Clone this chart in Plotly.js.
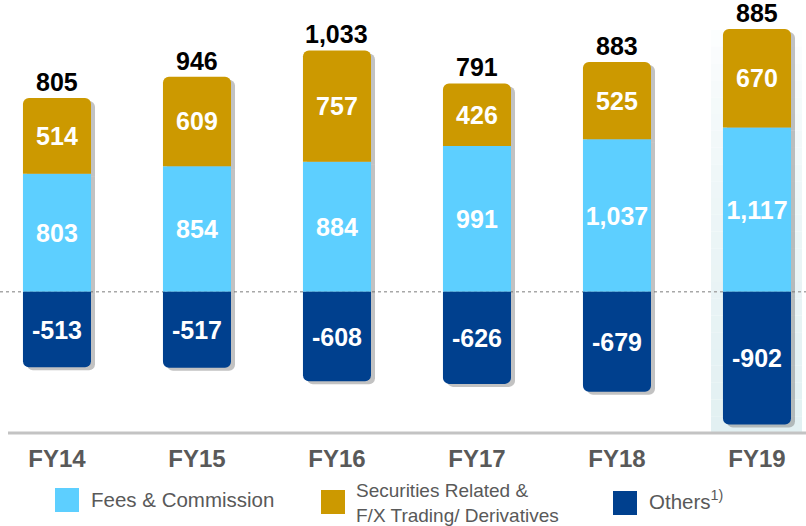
<!DOCTYPE html>
<html>
<head>
<meta charset="utf-8">
<script src="https://cdn.plot.ly/plotly-3.0.1.min.js"></script>
<style>html,body{margin:0;padding:0;background:#fff;}#chart{width:806px;height:526px;}</style>
</head>
<body>
<div id="chart"></div>
<script>
const categories = ['FY14', 'FY15', 'FY16', 'FY17', 'FY18', 'FY19'];
const fees = [803, 854, 884, 991, 1037, 1117];
const securities = [514, 609, 757, 426, 525, 670];
const others = [-513, -517, -608, -626, -679, -902];
const totals = [805, 946, 1033, 791, 883, 885];
const seriesNames = ['Fees & Commission', 'Securities Related &<br>F/X Trading/ Derivatives', 'Others<sup>1)</sup>'];
const colors = ['#5DCFFF', '#CC9900', '#00408E'];

const FONT = 'Liberation Sans, Arial, sans-serif';
const W = 806, H = 526, T = 5, B = 93;
const plotH = H - T - B;
const yRange = [-960, 1950];
const pxPerUnit = plotH / (yRange[1] - yRange[0]);
const xRange = [-0.407, -0.407 + W / 140];
const barW = 0.486;
const shX = 4 / 140, shY = 3 / pxPerUnit;

const fmt = v => v.toLocaleString('en-US');
const xs = categories;

function barTrace(vals, color, name, axes, withText) {
  const t = {
    type: 'bar', x: xs, y: vals, name: name, width: barW,
    marker: {color: color, line: {width: 0}},
    xaxis: axes[0], yaxis: axes[1], showlegend: false, hoverinfo: 'skip'
  };
  if (withText) {
    t.text = vals.map(fmt);
    t.textposition = 'inside';
    t.insidetextanchor = 'middle';
    t.constraintext = 'none';
    t.textangle = 0;
    t.textfont = {family: FONT, size: 25, color: '#ffffff', weight: 'bold'};
  } else {
    t.textposition = 'none';
  }
  return t;
}

const shadowColor = 'rgba(110,110,110,0.42)';
const data = [
  barTrace(fees, shadowColor, 's1', ['x', 'y'], false),
  barTrace(securities, shadowColor, 's2', ['x', 'y'], false),
  barTrace(others, shadowColor, 's3', ['x', 'y'], false),
  barTrace(fees, colors[0], seriesNames[0], ['x2', 'y2'], true),
  barTrace(securities, colors[1], seriesNames[1], ['x2', 'y2'], true),
  barTrace(others, colors[2], seriesNames[2], ['x2', 'y2'], true)
];

const py = p => (H - B - p) / plotH;   // pixel y -> paper y
const px = p => p / W;                  // pixel x -> paper x

const shapes = [];
// highlight band behind FY19 (gradient approximation)
const hlTop = 30, hlBot = H - B, nBands = 24;
for (let i = 0; i < nBands; i++) {
  const y0p = hlTop + (hlBot - hlTop) * i / nBands;
  const y1p = hlTop + (hlBot - hlTop) * (i + 1) / nBands;
  const f = Math.pow((i + 0.5) / nBands, 0.6);
  const r = Math.round(255 - (255 - 226) * f), g = Math.round(255 - (255 - 240) * f), b = Math.round(255 - (255 - 242) * f);
  shapes.push({type: 'rect', xref: 'paper', yref: 'paper', x0: px(711), x1: px(802), y0: py(y1p), y1: py(y0p),
    fillcolor: `rgb(${r},${g},${b})`, line: {width: 0}, layer: 'below'});
}
// zero dotted line
shapes.push({type: 'line', xref: 'paper', yref: 'y2', x0: 0, x1: 1, y0: 0, y1: 0,
  line: {color: '#a8a8a8', width: 1.5, dash: 'dot'}, layer: 'below'});
// base axis line
shapes.push({type: 'line', xref: 'paper', yref: 'paper', x0: px(8), x1: 1, y0: 0, y1: 0,
  line: {color: '#c3c3c3', width: 3}, layer: 'above'});

// legend (manual)
const legendItems = [
  {sq: [55, 488], tx: [89, 499], size: 20.5},
  {sq: [321, 490], tx: [354, 503], size: 19},
  {sq: [613, 491], tx: [647, 500], size: 20.5}
];
const annotations = [];
legendItems.forEach((it, i) => {
  shapes.push({type: 'rect', xref: 'paper', yref: 'paper', x0: px(it.sq[0]), x1: px(it.sq[0] + 24),
    y0: py(it.sq[1] + 24), y1: py(it.sq[1]), fillcolor: colors[i], line: {width: 0}});
  annotations.push({xref: 'paper', yref: 'paper', x: px(it.tx[0]), y: py(it.tx[1]), xanchor: 'left', yanchor: 'middle',
    text: seriesNames[i], align: 'left', showarrow: false,
    font: {family: FONT, size: it.size, color: '#595959'}});
});

// totals above bars
categories.forEach((c, i) => {
  annotations.push({xref: 'x2', yref: 'y2', x: c, y: fees[i] + securities[i], yanchor: 'bottom', yshift: 0,
    text: fmt(totals[i]), showarrow: false,
    font: {family: FONT, size: 25, color: '#000000', weight: 'bold'}});
});

const layout = {
  width: W, height: H,
  margin: {l: 0, r: 0, t: T, b: B, pad: 0},
  paper_bgcolor: '#ffffff', plot_bgcolor: 'rgba(0,0,0,0)',
  barmode: 'relative', barcornerradius: 6,
  showlegend: false,
  xaxis: {type: 'category', range: [xRange[0] - shX, xRange[1] - shX], showticklabels: false, showgrid: false, zeroline: false, showline: false, fixedrange: true},
  yaxis: {range: [yRange[0] + shY, yRange[1] + shY], showticklabels: false, showgrid: false, zeroline: false, showline: false, fixedrange: true},
  xaxis2: {type: 'category', overlaying: 'x', range: xRange, showgrid: false, zeroline: false, showline: false, ticks: '',
    ticklabelstandoff: 9, tickfont: {family: FONT, size: 24, color: '#595959', weight: 'bold'}, fixedrange: true},
  yaxis2: {overlaying: 'y', range: yRange, showticklabels: false, showgrid: false, zeroline: false, showline: false, fixedrange: true},
  shapes: shapes,
  annotations: annotations,
  font: {family: FONT}
};

Plotly.newPlot('chart', data, layout, {displayModeBar: false, staticPlot: true});
</script>
</body>
</html>
